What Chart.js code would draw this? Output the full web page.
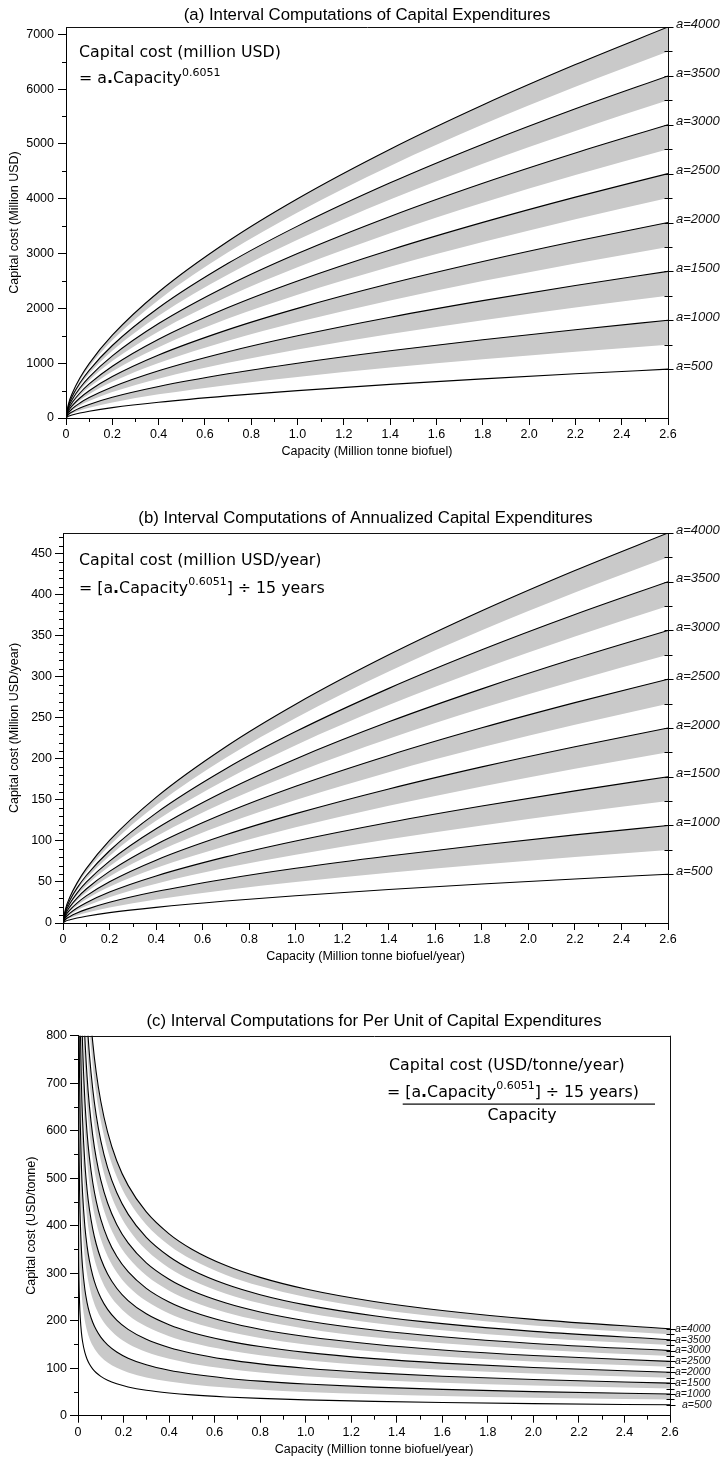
<!DOCTYPE html>
<html><head><meta charset="utf-8">
<script src="https://cdn.jsdelivr.net/npm/chart.js@4.4.1/dist/chart.umd.min.js"></script>
<style>
html,body{margin:0;padding:0;background:#fff;}
body{width:722px;height:1459px;position:relative;overflow:hidden;}
canvas{position:absolute;left:0;}
</style></head><body>
<canvas id="cA" width="722" height="465" style="top:0px;width:722px;height:465px"></canvas>
<canvas id="cB" width="722" height="500" style="top:465px;width:722px;height:500px"></canvas>
<canvas id="cC" width="722" height="494" style="top:965px;width:722px;height:494px"></canvas>
<script>
// ---------- DATA ----------
const aLevels = [500, 1000, 1500, 2000, 2500, 3000, 3500, 4000];

const xTickValues = [0, 0.2, 0.4, 0.6, 0.8, 1.0, 1.2, 1.4, 1.6, 1.8, 2.0, 2.2, 2.4, 2.6];
const xTickLabels = ['0', '0.2', '0.4', '0.6', '0.8', '1.0', '1.2', '1.4', '1.6', '1.8', '2.0', '2.2', '2.4', '2.6'];
const xMinorTicks = [0.1, 0.3, 0.5, 0.7, 0.9, 1.1, 1.3, 1.5, 1.7, 1.9, 2.1, 2.3, 2.5];

const yTicksA = [0, 1000, 2000, 3000, 4000, 5000, 6000, 7000];
const yTickLabelsA = ['0', '1000', '2000', '3000', '4000', '5000', '6000', '7000'];
const yMinorA = [500, 1500, 2500, 3500, 4500, 5500, 6500];

const yTicksB = [0, 50, 100, 150, 200, 250, 300, 350, 400, 450];
const yTickLabelsB = ['0', '50', '100', '150', '200', '250', '300', '350', '400', '450'];
const yMinorB = [10,20,30,40,60,70,80,90,110,120,130,140,160,170,180,190,210,220,230,240,260,270,280,290,310,320,330,340,360,370,380,390,410,420,430,440,460,470];

const yTicksC = [0, 100, 200, 300, 400, 500, 600, 700, 800];
const yTickLabelsC = ['0', '100', '200', '300', '400', '500', '600', '700', '800'];
const yMinorC = [50, 150, 250, 350, 450, 550, 650, 750];

// capacity (million tonne) sample points, panels (a) and (b)
const capacityAB = [0, 0.01, 0.03, 0.06, 0.1, 0.2, 0.4, 0.7, 1.0, 1.4, 1.8, 2.2, 2.6];

// (a) capital cost, million USD
const capA_500  = [0, 31, 60, 91, 124, 189, 287, 403, 500, 613, 714, 806, 891];
const capA_750  = [0, 46, 90, 137, 186, 283, 431, 604, 750, 919, 1070, 1209, 1337];
const capA_1000 = [0, 62, 120, 182, 248, 378, 574, 806, 1000, 1226, 1427, 1611, 1783];
const capA_1250 = [0, 77, 150, 228, 310, 472, 718, 1007, 1250, 1532, 1784, 2014, 2229];
const capA_1500 = [0, 92, 180, 273, 372, 566, 862, 1209, 1500, 1839, 2141, 2417, 2674];
const capA_1750 = [0, 108, 210, 319, 435, 661, 1005, 1410, 1750, 2145, 2498, 2820, 3120];
const capA_2000 = [0, 123, 240, 365, 497, 755, 1149, 1612, 2000, 2452, 2854, 3223, 3566];
const capA_2250 = [0, 139, 270, 410, 559, 850, 1292, 1813, 2250, 2758, 3211, 3626, 4012];
const capA_2500 = [0, 154, 300, 456, 621, 944, 1436, 2015, 2500, 3065, 3568, 4029, 4457];
const capA_2750 = [0, 169, 329, 501, 683, 1038, 1580, 2216, 2750, 3371, 3925, 4431, 4903];
const capA_3000 = [0, 185, 359, 547, 745, 1133, 1723, 2418, 3000, 3677, 4282, 4834, 5349];
const capA_3250 = [0, 200, 389, 592, 807, 1227, 1867, 2619, 3250, 3984, 4638, 5237, 5794];
const capA_3500 = [0, 216, 419, 638, 869, 1322, 2010, 2821, 3500, 4290, 4995, 5640, 6240];
const capA_3750 = [0, 231, 449, 684, 931, 1416, 2154, 3022, 3750, 4597, 5352, 6043, 6686];
const capA_4000 = [0, 246, 479, 729, 993, 1510, 2298, 3224, 4000, 4903, 5709, 6446, 7132];

// (b) annualized capital cost, million USD/year
const capB_500  = [0, 2.1, 4.0, 6.1, 8.3, 12.6, 19.1, 26.9, 33.3, 40.9, 47.6, 53.7, 59.4];
const capB_750  = [0, 3.1, 6.0, 9.1, 12.4, 18.9, 28.7, 40.3, 50.0, 61.3, 71.4, 80.6, 89.1];
const capB_1000 = [0, 4.1, 8.0, 12.2, 16.6, 25.2, 38.3, 53.7, 66.7, 81.7, 95.1, 107.4, 118.9];
const capB_1250 = [0, 5.1, 10.0, 15.2, 20.7, 31.5, 47.9, 67.2, 83.3, 102.2, 118.9, 134.3, 148.6];
const capB_1500 = [0, 6.2, 12.0, 18.2, 24.8, 37.8, 57.4, 80.6, 100.0, 122.6, 142.7, 161.1, 178.3];
const capB_1750 = [0, 7.2, 14.0, 21.3, 29.0, 44.1, 67.0, 94.0, 116.7, 143.0, 166.5, 188.0, 208.0];
const capB_2000 = [0, 8.2, 16.0, 24.3, 33.1, 50.3, 76.6, 107.5, 133.3, 163.4, 190.3, 214.9, 237.7];
const capB_2250 = [0, 9.2, 18.0, 27.3, 37.2, 56.6, 86.2, 120.9, 150.0, 183.9, 214.1, 241.7, 267.4];
const capB_2500 = [0, 10.3, 20.0, 30.4, 41.4, 62.9, 95.7, 134.3, 166.7, 204.3, 237.9, 268.6, 297.2];
const capB_2750 = [0, 11.3, 22.0, 33.4, 45.5, 69.2, 105.3, 147.7, 183.3, 224.7, 261.7, 295.4, 326.9];
const capB_3000 = [0, 12.3, 24.0, 36.5, 49.7, 75.5, 114.9, 161.2, 200.0, 245.2, 285.4, 322.3, 356.6];
const capB_3250 = [0, 13.3, 26.0, 39.5, 53.8, 81.8, 124.5, 174.6, 216.7, 265.6, 309.2, 349.1, 386.3];
const capB_3500 = [0, 14.4, 28.0, 42.5, 57.9, 88.1, 134.0, 188.0, 233.3, 286.0, 333.0, 376.0, 416.0];
const capB_3750 = [0, 15.4, 30.0, 45.6, 62.1, 94.4, 143.6, 201.5, 250.0, 306.5, 356.8, 402.9, 445.7];
const capB_4000 = [0, 16.4, 31.9, 48.6, 66.2, 100.7, 153.2, 214.9, 266.7, 326.9, 380.6, 429.7, 475.4];

// (c) per-unit capital cost, USD/tonne
const capacityC = [0.0002, 0.0005, 0.001, 0.002, 0.004, 0.007, 0.01, 0.015, 0.02, 0.03, 0.04, 0.05, 0.065, 0.08, 0.1, 0.13, 0.17, 0.22, 0.3, 0.4, 0.5, 0.65, 0.8, 1.0, 1.3, 1.6, 2.0, 2.6];
const capC_500  = [963, 670.6, 510.0, 387.9, 295.0, 236.5, 205.4, 175.0, 156.2, 133.1, 118.8, 108.8, 98.1, 90.4, 82.8, 74.6, 67.1, 60.6, 53.6, 47.9, 43.8, 39.5, 36.4, 33.3, 30.1, 27.7, 25.4, 22.9];
const capC_750  = [1444, 1006, 765, 582, 442.5, 354.8, 308.2, 262.6, 234.4, 199.7, 178.3, 163.2, 147.2, 135.6, 124.1, 111.9, 100.7, 90.9, 80.4, 71.8, 65.7, 59.3, 54.6, 50.0, 45.1, 41.5, 38.0, 34.3];
const capC_1000 = [1926, 1341, 1020, 775.8, 590.0, 473.0, 410.9, 350.1, 312.5, 266.3, 237.7, 217.6, 196.2, 180.8, 165.5, 149.2, 134.2, 121.2, 107.2, 95.7, 87.7, 79.0, 72.8, 66.7, 60.1, 55.4, 50.7, 45.7];
const capC_1250 = [2407, 1676, 1275, 969.8, 737.5, 591.3, 513.6, 437.6, 390.6, 332.8, 297.1, 272.0, 245.3, 225.9, 206.9, 186.5, 167.8, 151.5, 134.1, 119.7, 109.6, 98.8, 91.0, 83.3, 75.1, 69.2, 63.4, 57.1];
const capC_1500 = [2889, 2012, 1530, 1164, 885.0, 709.5, 616.3, 525.1, 468.7, 399.4, 356.5, 326.4, 294.3, 271.1, 248.3, 223.8, 201.3, 181.8, 160.9, 143.6, 131.5, 118.5, 109.2, 100.0, 90.2, 83.1, 76.1, 68.6];
const capC_1750 = [3370, 2347, 1785, 1358, 1032.5, 827.8, 719.0, 612.6, 546.8, 466.0, 415.9, 380.8, 343.4, 316.3, 289.6, 261.1, 234.9, 212.1, 187.7, 167.5, 153.4, 138.3, 127.4, 116.7, 105.2, 96.9, 88.7, 80.0];
const capC_2000 = [3852, 2682, 2040, 1552, 1180, 946.0, 821.7, 700.1, 624.9, 532.5, 475.3, 435.2, 392.4, 361.5, 331.0, 298.4, 268.4, 242.4, 214.5, 191.5, 175.3, 158.1, 145.6, 133.3, 120.2, 110.7, 101.4, 91.4];
const capC_2250 = [4333, 3018, 2295, 1746, 1327.5, 1064, 924.5, 787.7, 703.1, 599.1, 534.8, 489.6, 441.5, 406.7, 372.4, 335.7, 302.0, 272.7, 241.3, 215.4, 197.2, 177.8, 163.8, 150.0, 135.2, 124.6, 114.1, 102.9];
const capC_2500 = [4815, 3353, 2550, 1940, 1475, 1182.5, 1027, 875.2, 781.2, 665.7, 594.2, 544.0, 490.5, 451.9, 413.8, 373.1, 335.5, 303.1, 268.1, 239.3, 219.2, 197.6, 182.0, 166.7, 150.3, 138.4, 126.8, 114.3];
const capC_2750 = [5296, 3688, 2805, 2133, 1622.5, 1300.7, 1129.9, 962.7, 859.3, 732.2, 653.6, 598.4, 539.6, 497.1, 455.1, 410.4, 369.1, 333.4, 294.9, 263.3, 241.1, 217.3, 200.2, 183.3, 165.3, 152.3, 139.4, 125.7];
const capC_3000 = [5778, 4023, 3060, 2327, 1770, 1419, 1233, 1050, 937.4, 798.8, 713.0, 652.8, 588.6, 542.3, 496.5, 447.7, 402.6, 363.7, 321.7, 287.2, 263.0, 237.1, 218.4, 200.0, 180.3, 166.1, 152.1, 137.1];
const capC_3250 = [6259, 4359, 3315, 2521, 1917.5, 1537, 1335, 1138, 1015.5, 865.4, 772.4, 707.2, 637.7, 587.4, 537.9, 485.0, 436.2, 394.0, 348.6, 311.1, 284.9, 256.8, 236.6, 216.7, 195.3, 180.0, 164.8, 148.6];
const capC_3500 = [6741, 4694, 3570, 2715, 2065, 1655.5, 1438, 1225, 1093.6, 931.9, 831.8, 761.6, 686.7, 632.6, 579.3, 522.3, 469.7, 424.3, 375.4, 335.1, 306.8, 276.6, 254.8, 233.3, 210.4, 193.8, 177.5, 160.0];
const capC_3750 = [7222, 5029, 3825, 2909, 2212.5, 1774, 1541, 1313, 1172, 998.5, 891.3, 816.0, 735.8, 677.8, 620.7, 559.6, 503.3, 454.6, 402.2, 359.0, 328.7, 296.4, 273.0, 250.0, 225.4, 207.7, 190.1, 171.4];
const capC_4000 = [7704, 5365, 4080, 3103, 2360, 1892, 1643, 1400, 1249.9, 1065, 950.7, 870.4, 784.8, 723.0, 662.0, 596.9, 536.8, 484.9, 429.0, 382.9, 350.6, 316.1, 291.2, 266.7, 240.4, 221.5, 202.8, 182.9];

// ---------- BUILD ----------
const upperA = [capA_500, capA_1000, capA_1500, capA_2000, capA_2500, capA_3000, capA_3500, capA_4000];
const lowerA = [null, capA_750, capA_1250, capA_1750, capA_2250, capA_2750, capA_3250, capA_3750];
const upperB = [capB_500, capB_1000, capB_1500, capB_2000, capB_2500, capB_3000, capB_3500, capB_4000];
const lowerB = [null, capB_750, capB_1250, capB_1750, capB_2250, capB_2750, capB_3250, capB_3750];
const upperC = [capC_500, capC_1000, capC_1500, capC_2000, capC_2500, capC_3000, capC_3500, capC_4000];
const lowerC = [null, capC_750, capC_1250, capC_1750, capC_2250, capC_2750, capC_3250, capC_3750];

const BAND = '#c9c9c9';
function pts(xs, ys) { return xs.map((x, j) => ({ x: x, y: ys[j] })); }
function buildDatasets(xs, upper, lower) {
  const ds = [];
  upper.forEach((ys, i) => {
    if (lower[i]) {
      ds.push({ data: pts(xs, lower[i]), borderWidth: 0, borderColor: 'rgba(0,0,0,0)', pointRadius: 0, fill: false, cubicInterpolationMode: 'monotone' });
      ds.push({ data: pts(xs, ys), borderWidth: 1.1, borderColor: '#000', pointRadius: 0, fill: '-1', backgroundColor: BAND, cubicInterpolationMode: 'monotone' });
    } else {
      ds.push({ data: pts(xs, ys), borderWidth: 1.1, borderColor: '#000', pointRadius: 0, fill: false, cubicInterpolationMode: 'monotone' });
    }
  });
  return ds;
}

const FORM = '"DejaVu Sans", sans-serif';
const runFonts = {
  n: '15.8px ' + FORM,
  b: 'bold 15.8px ' + FORM,
  s: '11px ' + FORM
};
function drawRuns(ctx, x, y, runs) {
  ctx.textAlign = 'left';
  ctx.textBaseline = 'alphabetic';
  runs.forEach(r => {
    ctx.font = runFonts[r[1]];
    const dy = r[1] === 's' ? -7.5 : 0;
    ctx.fillText(r[0], x, y + dy);
    x += ctx.measureText(r[0]).width;
  });
}

const decoCfg = {
  cA: {
    title: '(a) Interval Computations of Capital Expenditures', titleY: 15,
    xMinor: xMinorTicks, yMinor: yMinorA, upper: upperA, lower: lowerA,
    labelFont: 'italic 13px "Liberation Sans", Arial, sans-serif', labelDX: 8, labelDY: -3, lastLabelDX: 0,
    formula: (ctx, ca) => {
      drawRuns(ctx, 79, 56.7, [['Capital cost (million USD)', 'n']]);
      drawRuns(ctx, 79, 83.3, [['= a', 'n'], ['.', 'b'], ['Capacity', 'n'], ['0.6051', 's']]);
    }
  },
  cB: {
    title: '(b) Interval Computations of Annualized Capital Expenditures', titleY: 53,
    xMinor: xMinorTicks, yMinor: yMinorB, upper: upperB, lower: lowerB,
    labelFont: 'italic 13px "Liberation Sans", Arial, sans-serif', labelDX: 8, labelDY: -3, lastLabelDX: 0,
    formula: (ctx, ca) => {
      drawRuns(ctx, 79, 100, [['Capital cost (million USD/year)', 'n']]);
      drawRuns(ctx, 79, 127.7, [['= [a', 'n'], ['.', 'b'], ['Capacity', 'n'], ['0.6051', 's'], ['] \u00F7 15 years', 'n']]);
    }
  },
  cC: {
    title: '(c) Interval Computations for Per Unit of Capital Expenditures', titleY: 56,
    xMinor: xMinorTicks, yMinor: yMinorC, upper: upperC, lower: lowerC,
    labelFont: 'italic 10.5px "Liberation Sans", Arial, sans-serif', labelDX: 5, labelDY: 0, firstLabelDX: 7,
    formula: (ctx, ca) => {
      drawRuns(ctx, 389, 105, [['Capital cost (USD/tonne/year)', 'n']]);
      drawRuns(ctx, 387, 131.7, [['= [a', 'n'], ['.', 'b'], ['Capacity', 'n'], ['0.6051', 's'], ['] \u00F7 15 years)', 'n']]);
      ctx.fillStyle = '#000';
      ctx.fillRect(402.7, 138.5, 252.3, 1.2);
      ctx.font = runFonts.n;
      ctx.textAlign = 'center';
      ctx.fillText('Capacity', 522, 155);
    }
  }
};

const decoPlugin = {
  id: 'deco',
  afterDraw(chart) {
    const cfg = decoCfg[chart.canvas.id];
    const { ctx, chartArea: ca, scales } = chart;
    const xs = scales.x, ys = scales.y;
    ctx.save();
    // frame top & right
    ctx.strokeStyle = '#111';
    ctx.lineWidth = 1;
    ctx.beginPath();
    ctx.moveTo(ca.left, Math.round(ca.top) + 0.5); ctx.lineTo(ca.right + 1, Math.round(ca.top) + 0.5);
    ctx.moveTo(Math.round(ca.right) + 0.5, ca.top); ctx.lineTo(Math.round(ca.right) + 0.5, ca.bottom);
    ctx.stroke();
    // minor ticks
    ctx.strokeStyle = '#000';
    ctx.beginPath();
    cfg.xMinor.forEach(v => {
      const px = Math.round(xs.getPixelForValue(v)) + 0.5;
      ctx.moveTo(px, ca.bottom); ctx.lineTo(px, ca.bottom + 4);
    });
    cfg.yMinor.forEach(v => {
      const py = Math.round(ys.getPixelForValue(v)) + 0.5;
      ctx.moveTo(ca.left, py); ctx.lineTo(ca.left - 4, py);
    });
    // right-side end ticks
    const rx = Math.round(ca.right) + 0.5;
    cfg.upper.forEach((arr, i) => {
      const py = Math.round(ys.getPixelForValue(arr[arr.length - 1])) + 0.5;
      ctx.moveTo(rx - 4, py); ctx.lineTo(rx + 5, py);
      if (cfg.lower[i]) {
        const lo = cfg.lower[i];
        const pl = Math.round(ys.getPixelForValue(lo[lo.length - 1])) + 0.5;
        ctx.moveTo(rx - 4, pl); ctx.lineTo(rx + 4, pl);
      }
    });
    ctx.stroke();
    // right labels
    ctx.fillStyle = '#111';
    ctx.font = cfg.labelFont;
    ctx.textAlign = 'left';
    ctx.textBaseline = 'middle';
    cfg.upper.forEach((arr, i) => {
      const py = ys.getPixelForValue(arr[arr.length - 1]);
      const dx = (i === 0 && cfg.firstLabelDX) ? cfg.firstLabelDX : 0;
      ctx.fillText('a=' + aLevels[i], ca.right + cfg.labelDX + dx, py + cfg.labelDY);
    });
    // title
    ctx.fillStyle = '#000';
    ctx.font = '16.8px "Liberation Sans", Arial, sans-serif';
    ctx.textAlign = 'center';
    ctx.textBaseline = 'middle';
    ctx.fillText(cfg.title, (ca.left + ca.right) / 2, cfg.titleY);
    // formula
    ctx.fillStyle = '#000';
    cfg.formula(ctx, ca);
    ctx.restore();
  }
};

const tickFont = { family: '"Liberation Sans", Arial, sans-serif', size: 12.5 };
const axisTitleFont = { family: '"Liberation Sans", Arial, sans-serif', size: 12.5 };

function makeChart(id, c) {
  return new Chart(document.getElementById(id), {
    type: 'line',
    data: { datasets: buildDatasets(c.xs, c.upper, c.lower) },
    options: {
      responsive: false, animation: false, events: [],
      layout: { padding: c.padding },
      plugins: {
        legend: { display: false }, tooltip: { enabled: false }, title: { display: false },
        filler: { propagate: false, drawTime: 'beforeDatasetsDraw' }
      },
      scales: {
        x: {
          type: 'linear', min: 0, max: 2.6,
          afterBuildTicks: s => { s.ticks = xTickValues.map(v => ({ value: v })); },
          afterFit: s => { s.height = c.xHeight; },
          ticks: { callback: (v, i) => xTickLabels[i], autoSkip: false, maxRotation: 0, minRotation: 0, padding: 2, color: '#000', font: tickFont },
          grid: { drawOnChartArea: false, drawTicks: true, tickLength: 7, tickColor: '#000' },
          border: { display: true, color: '#000', width: 1 },
          title: { display: true, text: c.xTitle, color: '#000', font: axisTitleFont, padding: { top: 0, bottom: c.xTitlePad } }
        },
        y: {
          type: 'linear', min: 0, max: c.yMax,
          afterBuildTicks: s => { s.ticks = c.yTicks.map(v => ({ value: v })); },
          afterFit: s => { s.width = c.yWidth; },
          ticks: { callback: (v, i) => c.yTickLabels[i], autoSkip: false, padding: c.yTickPad, color: '#000', font: tickFont },
          grid: { drawOnChartArea: false, drawTicks: true, tickLength: 8, tickColor: '#000' },
          border: { display: true, color: '#000', width: 1 },
          title: { display: true, text: c.yTitle, color: '#000', font: axisTitleFont, padding: { top: c.yTitlePad, bottom: 0 } }
        }
      }
    },
    plugins: [decoPlugin]
  });
}

makeChart('cA', {
  xs: capacityAB, upper: upperA, lower: lowerA,
  padding: { left: 0, top: 27, right: 54, bottom: 2 },
  xHeight: 45, xTitlePad: 3.5, yWidth: 66, yTitlePad: 7.5, yTickPad: 4,
  yMax: 7132, yTicks: yTicksA, yTickLabels: yTickLabelsA,
  xTitle: 'Capacity (Million tonne biofuel)', yTitle: 'Capital cost (Million USD)'
});
makeChart('cB', {
  xs: capacityAB, upper: upperB, lower: lowerB,
  padding: { left: 0, top: 68, right: 54, bottom: 0 },
  xHeight: 42, xTitlePad: 0.5, yWidth: 63, yTitlePad: 7.5, yTickPad: 3,
  yMax: 475.4, yTicks: yTicksB, yTickLabels: yTickLabelsB,
  xTitle: 'Capacity (Million tonne biofuel/year)', yTitle: 'Capital cost (Million USD/year)'
});
makeChart('cC', {
  xs: capacityC, upper: upperC, lower: lowerC,
  padding: { left: 0, top: 70.7, right: 52, bottom: 1.3 },
  xHeight: 42, xTitlePad: 0.2, yWidth: 78, yTitlePad: 24.2, yTickPad: 3,
  yMax: 800, yTicks: yTicksC, yTickLabels: yTickLabelsC,
  xTitle: 'Capacity (Million tonne biofuel/year)', yTitle: 'Capital cost (USD/tonne)'
});
</script>
</body></html>
